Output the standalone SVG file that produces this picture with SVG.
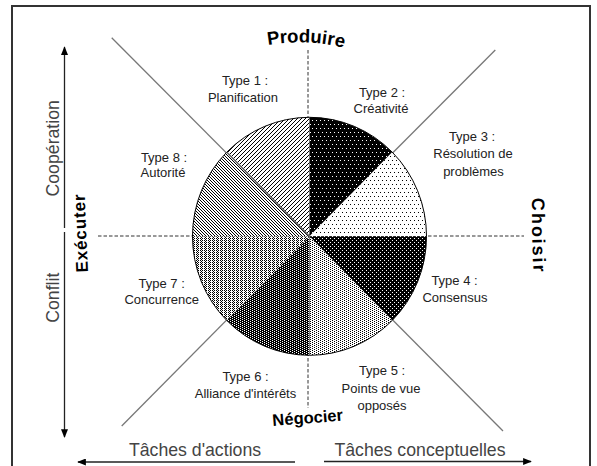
<svg xmlns="http://www.w3.org/2000/svg" width="597" height="466" viewBox="0 0 597 466">
  <style>
    .lbl { font-family: "Liberation Sans", Arial, sans-serif; font-size: 13px; fill: #222; text-anchor: middle; }
    .axis { font-family: "Liberation Sans", Arial, sans-serif; font-size: 17.7px; fill: #444; text-anchor: middle; }
    .pole { font-family: "Liberation Sans", Arial, sans-serif; font-weight: bold; fill: #000; }
    .diag { stroke: #777; stroke-width: 1.3; fill: none; }
    .dash { stroke: #333; stroke-width: 1; stroke-dasharray: 3.5 2; fill: none; }
    .arrow { stroke: #222; stroke-width: 1.3; fill: none; }
    .frame { stroke: #333; stroke-width: 2; fill: none; }
  </style>
  <defs>
    <!-- fill patterns of the eight wedges -->
    <pattern id="p1" width="4" height="4" patternUnits="userSpaceOnUse">
      <rect width="4" height="4" fill="#fff"/>
      <rect x="3" y="0" width="1" height="1" fill="#000"/>
      <rect x="2" y="1" width="1" height="1" fill="#000"/>
      <rect x="1" y="2" width="1" height="1" fill="#000"/>
      <rect x="0" y="3" width="1" height="1" fill="#000"/>
    </pattern>
    <pattern id="p8" width="3" height="3" patternUnits="userSpaceOnUse">
      <rect width="3" height="3" fill="#fff"/>
      <rect x="0" y="0" width="1" height="1" fill="#000"/>
      <rect x="1" y="1" width="1" height="1" fill="#000"/>
      <rect x="2" y="2" width="1" height="1" fill="#000"/>
    </pattern>
    <pattern id="p2" width="4" height="8" patternUnits="userSpaceOnUse">
      <rect width="4" height="8" fill="#000"/>
      <rect x="0" y="0" width="1" height="1" fill="#fff"/>
      <rect x="2" y="4" width="1" height="1" fill="#fff"/>
    </pattern>
    <pattern id="p3" width="4" height="8" patternUnits="userSpaceOnUse">
      <rect width="4" height="8" fill="#fff"/>
      <rect x="0" y="0" width="1" height="1" fill="#000"/>
      <rect x="2" y="4" width="1" height="1" fill="#000"/>
    </pattern>
    <pattern id="p4" width="4" height="4" patternUnits="userSpaceOnUse">
      <rect width="4" height="4" fill="#000"/>
      <rect x="0" y="0" width="1" height="1" fill="#fff"/>
      <rect x="2" y="2" width="1" height="1" fill="#fff"/>
    </pattern>
    <pattern id="p5" width="4" height="2" patternUnits="userSpaceOnUse">
      <rect width="4" height="2" fill="#fff"/>
      <rect x="0" y="0" width="1" height="1" fill="#000"/>
      <rect x="2" y="1" width="1" height="1" fill="#000"/>
    </pattern>
    <pattern id="p6" width="4" height="2" patternUnits="userSpaceOnUse">
      <rect width="4" height="2" fill="#000"/>
      <rect x="0" y="0" width="1" height="1" fill="#fff"/>
      <rect x="2" y="1" width="1" height="1" fill="#fff"/>
    </pattern>
    <pattern id="p7" width="4" height="2" patternUnits="userSpaceOnUse">
      <rect width="4" height="2" fill="#fff"/>
      <rect x="0" y="0" width="1" height="1" fill="#000"/>
      <rect x="2" y="0" width="1" height="1" fill="#000"/>
      <rect x="1" y="1" width="1" height="1" fill="#000"/>
    </pattern>
    <marker id="head" viewBox="0 0 10 8" refX="9" refY="4" markerWidth="9" markerHeight="7" markerUnits="userSpaceOnUse" orient="auto">
      <path d="M0,0 L10,4 L0,8 Z" fill="#000"/>
    </marker>
    <!-- wavy baselines for the four pole words -->
    <path id="wProduire" d="M268,45 C290,41 322,41 347,49"/>
    <path id="wExecuter" d="M88,272 C87,246 85,218 85,192"/>
    <path id="wChoisir" d="M532,198 C532,222 532,250 534,278"/>
    <path id="wNegocier" d="M273,426 C295,424 320,423 347,420"/>
  </defs>

  <!-- outer frame -->
  <path class="frame" d="M12,466 L12,6 L590,6 L590,466"/>

  <g id="connectors">
    <!-- diagonals -->
    <line class="diag" x1="111.7" y1="37.7" x2="309.5" y2="236.3"/>
    <line class="diag" x1="495.3" y1="50" x2="309.5" y2="236.3"/>
    <line class="diag" x1="121.7" y1="426" x2="309.5" y2="236.3"/>
    <line class="diag" x1="503" y1="431" x2="309.5" y2="236.3"/>
    <!-- dashed axes -->
    <line class="dash" x1="308" y1="50" x2="308" y2="408"/>
    <line class="dash" x1="98" y1="236" x2="524" y2="236"/>
    <!-- vertical scale arrows -->
    <line class="arrow" x1="64.5" y1="228" x2="64.5" y2="47" marker-end="url(#head)"/>
    <line class="arrow" x1="64.5" y1="232" x2="64.5" y2="437" marker-end="url(#head)"/>
    <!-- horizontal scale arrows -->
    <line class="arrow" x1="295" y1="462" x2="78" y2="462" stroke-width="1.6" marker-end="url(#head)"/>
    <line class="arrow" x1="324" y1="461.5" x2="531" y2="461.5" marker-end="url(#head)"/>
  </g>

  <g id="pie">
    <g id="type1"><path d="M309.5,236.3 L226.8,152.2 A117,119 0 0 1 309.5,117.3 Z" fill="url(#p1)"/></g>
    <g id="type2"><path d="M309.5,236.3 L309.5,117.3 A117,119 0 0 1 392.2,152.2 Z" fill="url(#p2)"/></g>
    <g id="type3"><path d="M309.5,236.3 L392.2,152.2 A117,119 0 0 1 426.5,236.3 Z" fill="url(#p3)"/></g>
    <g id="type4"><path d="M309.5,236.3 L426.5,236.3 A117,119 0 0 1 392.2,320.4 Z" fill="url(#p4)"/></g>
    <g id="type5"><path d="M309.5,236.3 L392.2,320.4 A117,119 0 0 1 309.5,355.3 Z" fill="url(#p5)"/></g>
    <g id="type6"><path d="M309.5,236.3 L309.5,355.3 A117,119 0 0 1 226.8,320.4 Z" fill="url(#p6)"/></g>
    <g id="type7"><path d="M309.5,236.3 L226.8,320.4 A117,119 0 0 1 192.5,236.3 Z" fill="url(#p7)"/></g>
    <g id="type8"><path d="M309.5,236.3 L192.5,236.3 A117,119 0 0 1 226.8,152.2 Z" fill="url(#p8)"/></g>
    <ellipse cx="309.5" cy="236.3" rx="117" ry="119" fill="none" stroke="#000" stroke-width="1"/>
    <line x1="226.8" y1="152.2" x2="309.5" y2="236.3" stroke="#666" stroke-width="1.5"/>
  </g>

  <g id="labels">
    <g id="label1"><text class="lbl" x="245" y="85">Type 1 :</text><text class="lbl" x="243" y="101.7">Planification</text></g>
    <g id="label2"><text class="lbl" x="382" y="97.3">Type 2 :</text><text class="lbl" x="381" y="113.3">Créativité</text></g>
    <g id="label3"><text class="lbl" x="472" y="140.7">Type 3 :</text><text class="lbl" x="473" y="158.3">Résolution de</text><text class="lbl" x="473.5" y="175.7">problèmes</text></g>
    <g id="label4"><text class="lbl" x="454.5" y="285.3">Type 4 :</text><text class="lbl" x="455" y="302">Consensus</text></g>
    <g id="label5"><text class="lbl" x="382" y="375.3">Type 5 :</text><text class="lbl" x="381" y="392.7">Points de vue</text><text class="lbl" x="382" y="410">opposés</text></g>
    <g id="label6"><text class="lbl" x="245.5" y="381">Type 6 :</text><text class="lbl" x="245.5" y="397.7">Alliance d'intérêts</text></g>
    <g id="label7"><text class="lbl" x="161.7" y="287.7">Type 7 :</text><text class="lbl" x="161.7" y="303.7">Concurrence</text></g>
    <g id="label8"><text class="lbl" x="164" y="161.7">Type 8 :</text><text class="lbl" x="163" y="177.3">Autorité</text></g>
  </g>

  <g id="poles">
    <g id="produire"><text class="pole" font-size="18.5"><textPath href="#wProduire">Produire</textPath></text></g>
    <g id="executer"><text class="pole" font-size="17" letter-spacing="0.8"><textPath href="#wExecuter">Exécuter</textPath></text></g>
    <g id="choisir"><text class="pole" font-size="18" letter-spacing="2"><textPath href="#wChoisir">Choisir</textPath></text></g>
    <g id="negocier"><text class="pole" font-size="16.5"><textPath href="#wNegocier">Négocier</textPath></text></g>
  </g>

  <g id="axes">
    <g id="cooperation"><text class="axis" transform="translate(59,148.3) rotate(-90)">Coopération</text></g>
    <g id="conflit"><text class="axis" transform="translate(59,297.7) rotate(-90)">Conflit</text></g>
    <g id="actions"><text class="axis" x="195" y="456">Tâches d'actions</text></g>
    <g id="conceptuelles"><text class="axis" x="420" y="456">Tâches conceptuelles</text></g>
  </g>
</svg>
